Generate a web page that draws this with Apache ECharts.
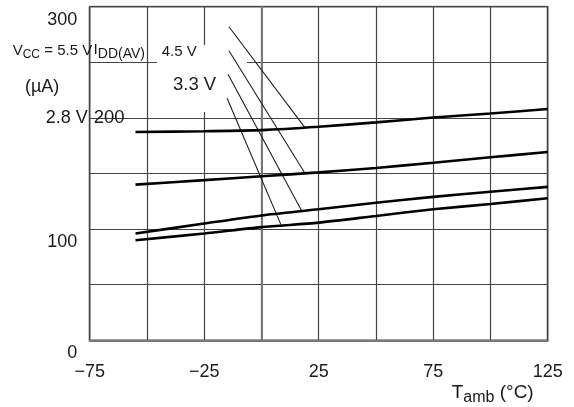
<!DOCTYPE html>
<html>
<head>
<meta charset="utf-8">
<script src="https://cdn.jsdelivr.net/npm/echarts@6/dist/echarts.min.js"></script>
<style>
html,body{margin:0;padding:0;background:#fff;}
#c{width:574px;height:407px;}
</style>
</head>
<body>
<div id="c"></div>
<script>
// ---- data ----
const temps = [-55, -25, 0, 25, 50, 75, 100, 125];
const idd55 = [187.3, 188, 189, 192, 196, 200.3, 204, 208];
const idd45 = [140, 144, 147.5, 151, 155, 159.7, 164.6, 169.3];
const idd33 = [96, 105, 112.3, 117.8, 123.7, 129, 133.6, 138];
const idd28 = [90, 96, 101.8, 105.8, 111.8, 117.8, 122.6, 127.7];
// leader lines (label end -> curve end), in data units
const leader55 = [[-14.2, 282], [19, 191.3]];
const leader45 = [[-14.2, 260.4], [19, 150.2]];
const leader33 = [[-14.6, 239.2], [17.6, 116.3]];
const leader28 = [[-15.0, 217.6], [8.5, 104]];
const xLabelValues = [-75, -25, 25, 75, 125];
const yLabelValues = [0, 100, 300];
const yInsideLabelValues = [200];

const FONT = '"Liberation Sans", Arial, sans-serif';
const TXT = '#1a1a1a';

function zip(xs, ys) { return xs.map((x, i) => [x, ys[i]]); }
function fmtNum(v) { return v < 0 ? '\u2212' + Math.abs(v) : String(v); }

const chart = echarts.init(document.getElementById('c'), null, {renderer: 'canvas'});

const curveStyle = {color: '#000', width: 2.6};
const leaderStyle = {color: '#1e1e1e', width: 1.1};

function curve(d) {
  return {type: 'line', data: d, smooth: 0.25, showSymbol: false, symbol: 'none', lineStyle: curveStyle, z: 3, silent: true, animation: false};
}
function leader(d) {
  return {type: 'line', data: d, showSymbol: false, symbol: 'none', lineStyle: leaderStyle, z: 2, silent: true, animation: false};
}

chart.setOption({
  animation: false,
  grid: {left: 89.7, right: 26.3, top: 6.7, bottom: 66.7, show: true, borderColor: '#888', borderWidth: 2, backgroundColor: 'transparent'},
  xAxis: {
    type: 'value', min: -75, max: 125, interval: 25,
    axisLine: {show: true, lineStyle: {color: '#777', width: 2}},
    axisTick: {show: false},
    splitLine: {show: true, lineStyle: {color: '#444', width: 1.2}},
    axisLabel: {
      margin: 23, fontSize: 18, fontFamily: FONT, color: TXT,
      formatter: v => xLabelValues.includes(v) ? fmtNum(v) : ''
    }
  },
  yAxis: [{
    type: 'value', min: 0, max: 300, interval: 50,
    axisLine: {show: true, lineStyle: {color: '#777', width: 2}},
    axisTick: {show: false},
    splitLine: {show: true, lineStyle: {color: '#444', width: 1.2}},
    axisLabel: {
      margin: 12.5, fontSize: 18, fontFamily: FONT, color: TXT,
      verticalAlign: 'top', padding: [4, 0, 0, 0],
      formatter: v => yLabelValues.includes(v) ? fmtNum(v) : ''
    }
  }, {
    type: 'value', min: 0, max: 300, interval: 50, position: 'left',
    axisLine: {show: false}, axisTick: {show: false}, splitLine: {show: false},
    axisLabel: {
      inside: true, margin: 4, fontSize: 18.5, fontFamily: FONT, color: TXT,
      verticalAlign: 'middle',
      formatter: v => yInsideLabelValues.includes(v) ? fmtNum(v) : ''
    }
  }],
  series: [
    curve(zip(temps, idd55)),
    curve(zip(temps, idd45)),
    curve(zip(temps, idd33)),
    curve(zip(temps, idd28)),
    leader(leader55),
    leader(leader45),
    leader(leader33),
    leader(leader28)
  ],
  graphic: [
    {type: 'rect', z: 1, silent: true, shape: {x: 157, y: 45, width: 90, height: 67}, style: {fill: '#fff'}},
    {type: 'text', z: 5, silent: true, style: {
      x: 12.7, y: 61, text: '{m|V}{s|CC}{m| = 5.5 V}', verticalAlign: 'bottom', fill: TXT, fontFamily: FONT,
      rich: {
        m: {fontSize: 15, fontFamily: FONT, fill: TXT, verticalAlign: 'bottom', padding: [0, 0, 3, 0]},
        s: {fontSize: 12, fontFamily: FONT, fill: TXT, verticalAlign: 'bottom'}
      }}},
    {type: 'text', z: 5, silent: true, style: {
      x: 93.5, y: 61, text: '{m|I}{s|DD(AV)}', verticalAlign: 'bottom', fill: TXT, fontFamily: FONT,
      rich: {
        m: {fontSize: 15.5, fontFamily: FONT, fill: TXT, verticalAlign: 'bottom', padding: [0, 0, 3, 0]},
        s: {fontSize: 14, fontFamily: FONT, fill: TXT, verticalAlign: 'bottom'}
      }}},
    {type: 'text', z: 5, silent: true, style: {x: 161.7, y: 51.5, text: '4.5 V', fontSize: 15, fontFamily: FONT, fill: TXT, verticalAlign: 'middle'}},
    {type: 'text', z: 5, silent: true, style: {x: 25, y: 87, text: '(\u00b5A)', fontSize: 18, fontFamily: FONT, fill: TXT, verticalAlign: 'middle'}},
    {type: 'text', z: 5, silent: true, style: {x: 173, y: 84.5, text: '3.3 V', fontSize: 18.5, fontFamily: FONT, fill: TXT, verticalAlign: 'middle'}},
    {type: 'text', z: 5, silent: true, style: {x: 45.7, y: 118.5, text: '2.8 V', fontSize: 18, fontFamily: FONT, fill: TXT, verticalAlign: 'middle'}},
    {type: 'text', z: 5, silent: true, style: {
      x: 451.7, y: 406, text: '{m|T}{s|amb}{m| (\u00b0C)}', verticalAlign: 'bottom', fill: TXT, fontFamily: FONT,
      rich: {
        m: {fontSize: 19, fontFamily: FONT, fill: TXT, verticalAlign: 'bottom', padding: [0, 0, 4, 0]},
        s: {fontSize: 16, fontFamily: FONT, fill: TXT, verticalAlign: 'bottom'}
      }}}
  ]
});
</script>
</body>
</html>
